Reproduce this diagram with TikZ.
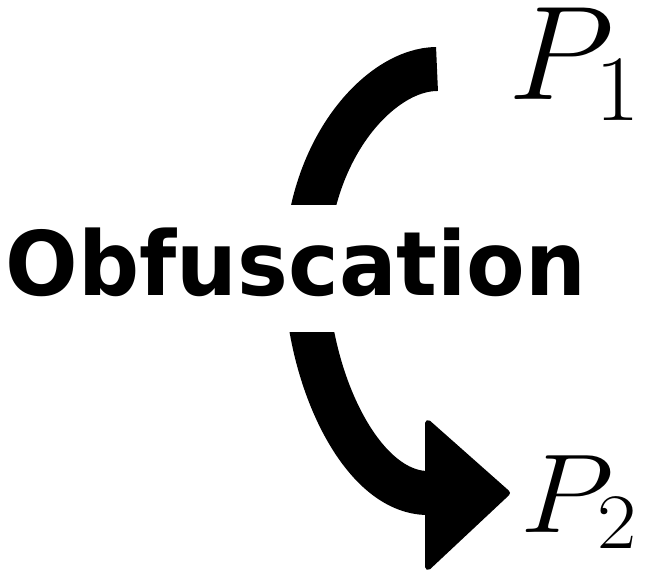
\RequirePackage{fix-cm}
\documentclass[tikz,border=0pt]{standalone}
\usepackage{fontspec}
\newfontfamily\labelfont{DejaVu Sans}
\usetikzlibrary{arrows.meta,positioning}
\tikzset{
  shaft/.style={line width=44bp, line cap=butt},
  headtip/.style={fill=black, draw=black, line width=6bp, line join=round},
  obflbl/.style={font=\labelfont\bfseries\fontsize{89bp}{100bp}\selectfont,
                 fill=white, inner xsep=0pt, inner ysep=0pt,
                 text height=90bp, text depth=37bp, anchor=base},
  plbl/.style={inner sep=0pt, anchor=base west}
}

\begin{document}
\begin{tikzpicture}[x=1bp, y=-1bp]
\useasboundingbox (0,0) rectangle (647,574);
\coordinate (start) at (437,69);
\coordinate (bend) at (306,270);
\coordinate (head) at (428,493);
\draw[shaft] (start) .. controls (380,69) and (306,150) .. (bend)
  .. controls (306,375) and (360,493) .. (head);
\fill[headtip] (428,423) -- (507,493) -- (428,567) -- cycle;
\node[obflbl] (obf) at (296,295) {\scalebox{0.96}[1]{Obfuscation}};
\node[plbl, font=\fontsize{138bp}{140bp}\selectfont] (p1) at (508,100) {\scalebox{1}[0.97]{$P_1$}};
\node[plbl, font=\fontsize{122bp}{120bp}\selectfont] (p2) at (520,532) {\scalebox{1}[0.92]{$P_2$}};
\end{tikzpicture}
\end{document}
